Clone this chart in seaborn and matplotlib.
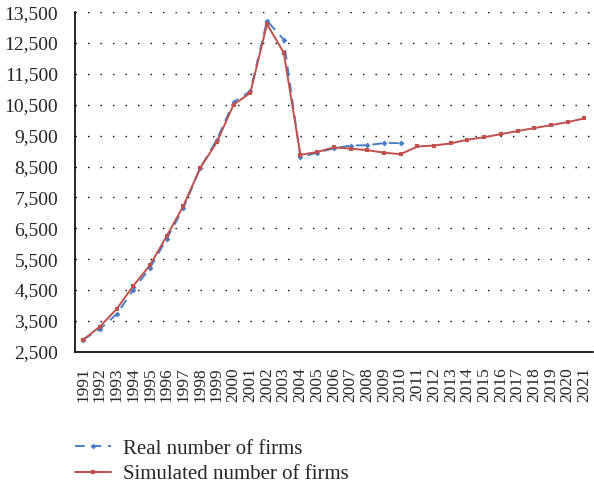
import matplotlib
matplotlib.use("Agg")
import matplotlib.pyplot as plt
from matplotlib.ticker import FixedLocator
import numpy as np
import seaborn as sns

sns.set_theme(style="white")
plt.rcParams['font.family'] = ['Liberation Serif', 'DejaVu Serif']

years = [str(y) for y in range(1991, 2022)]
real_firms = [2900, 3240, 3720, 4510, 5220, 6160, 7160, 8450, 9370, 10590,
              10940, 13220, 12610, 8800, 8950, 9090, 9180, 9190, 9260, 9260]
simulated_firms = [2890, 3320, 3885, 4640, 5310, 6250, 7230, 8450, 9290, 10505,
                   10880, 13110, 12190, 8880, 8970, 9120, 9080, 9030, 8950, 8900,
                   9150, 9180, 9250, 9370, 9450, 9550, 9650, 9745, 9840, 9940, 10060]
y_ticks = list(range(2500, 14500, 1000))

fig = plt.figure(figsize=(5.94, 4.84), dpi=100)
ax = fig.add_axes([0.126, 0.273, 0.872, 0.702])

sns.lineplot(x=years, y=simulated_firms, ax=ax, color='#C0504D', linewidth=1.4,
             marker='s', markersize=3.5, markeredgewidth=0, label='Simulated number of firms',
             zorder=3)
sns.lineplot(x=years[:len(real_firms)], y=real_firms, ax=ax, color='#4A7EC4', linewidth=1.4,
             linestyle=(0, (5, 3.5)), marker='D', markersize=3, markeredgewidth=0,
             label='Real number of firms', zorder=2)

ax.set_xlim(-0.5, len(years) - 0.5)
ax.set_ylim(2500, 13500)
ax.set_yticks(y_ticks)
ax.set_yticklabels([f"{v:,}" for v in y_ticks], fontsize=14)
ax.set_xticks(range(len(years)))
ax.set_xticklabels(years, rotation=90, fontsize=12.5)
ax.xaxis.set_minor_locator(FixedLocator(np.arange(-0.5, len(years))))
ax.tick_params(axis='x', which='major', length=0, pad=11)
ax.tick_params(axis='x', which='minor', length=5, width=1, color='black', direction='out')
ax.tick_params(axis='y', length=5, width=1, color='black', direction='out', pad=7)
ax.set_xlabel('')
ax.set_ylabel('')

ax.grid(axis='y', color='black', linestyle=(0, (1, 8)), linewidth=1)
ax.grid(axis='x', visible=False)
for side in ['top', 'right']:
    ax.spines[side].set_visible(False)
for side in ['left', 'bottom']:
    ax.spines[side].set_color('black')
    ax.spines[side].set_linewidth(1.2)

ax.get_legend().remove()
handles, labels = ax.get_legend_handles_labels()
fig.legend(handles[::-1], labels[::-1], loc='upper left', bbox_to_anchor=(0.127, 0.093),
           frameon=False, fontsize=15, handlelength=1.7, labelspacing=0.3, handletextpad=0.6,
           borderaxespad=0, borderpad=0)

fig.savefig('out.png', dpi=100)
